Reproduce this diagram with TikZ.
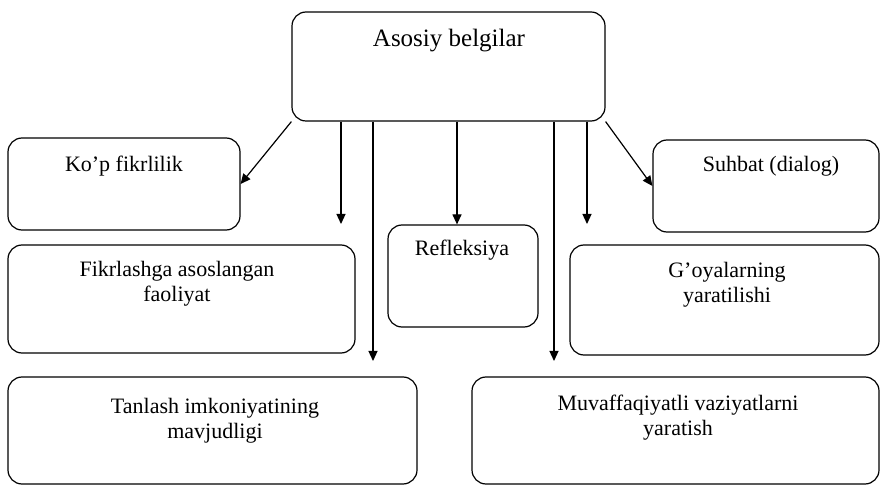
\documentclass[tikz,border=0pt]{standalone}
\usepackage{fontspec}
\setmainfont{Liberation Serif}
\usetikzlibrary{arrows.meta}
\begin{document}
\begin{tikzpicture}[x=1pt,y=-1pt,
  box/.style={draw,line width=1.2pt,rounded corners=14pt,inner sep=0pt},
  lbl/.style={anchor=base,inner sep=0pt,align=center,font=\fontsize{22}{25}\selectfont},
  arr/.style={line width=1.2pt,-{Triangle[length=10pt,width=9pt]}},
  con/.style={line width=1.2pt}]
\useasboundingbox (0,0) rectangle (881,486);
% boxes
\node[box,minimum width=313pt,minimum height=109pt] (top) at (448.5,66.5) {};
\node[box,minimum width=232pt,minimum height=92pt] (kop) at (124,184) {};
\node[box,minimum width=226pt,minimum height=92pt] (suh) at (766,186) {};
\node[box,minimum width=347pt,minimum height=108pt] (fik) at (181.5,299) {};
\node[box,minimum width=150pt,minimum height=102pt] (ref) at (463,276) {};
\node[box,minimum width=309pt,minimum height=110pt] (goy) at (724.5,300) {};
\node[box,minimum width=409pt,minimum height=107pt] (tan) at (212.5,430.5) {};
\node[box,minimum width=407pt,minimum height=107pt] (muv) at (675.5,430.5) {};
% texts (multi-line labels: base = last line)
\node[lbl,font=\fontsize{25}{28}\selectfont] (ttop) at (449,47) {Asosiy belgilar};
\node[lbl] (tkop) at (124,172) {Ko'p fikrlilik};
\node[lbl] (tsuh) at (771,172) {Suhbat (dialog)};
\node[lbl] (tfik) at (177,302) {Fikrlashga asoslangan\\faoliyat};
\node[lbl] (tref) at (462,256) {Refleksiya};
\node[lbl] (tgoy) at (727,303) {G'oyalarning\\yaratilishi};
\node[lbl] (ttan) at (215,438) {Tanlash imkoniyatining\\mavjudligi};
\node[lbl] (tmuv) at (678,435) {Muvaffaqiyatli vaziyatlarni\\yaratish};
% arrow ends
\coordinate (e1) at (341,224);
\coordinate (e2) at (373,361);
\coordinate (e3) at (457,225);
\coordinate (e4) at (554,361);
\coordinate (e5) at (587,224);
% connectors
\draw[arr] (top.south west) -- (kop.east);
\draw[arr] (top.south -| e1) -- (e1);
\draw[arr] (top.south -| e2) -- (e2);
\draw[arr] (top.south -| e3) -- (ref.north -| e3);
\draw[arr] (top.south -| e4) -- (e4);
\draw[arr] (top.south -| e5) -- (e5);
\draw[arr] (top.south east) -- (suh.west);
\end{tikzpicture}
\end{document}
